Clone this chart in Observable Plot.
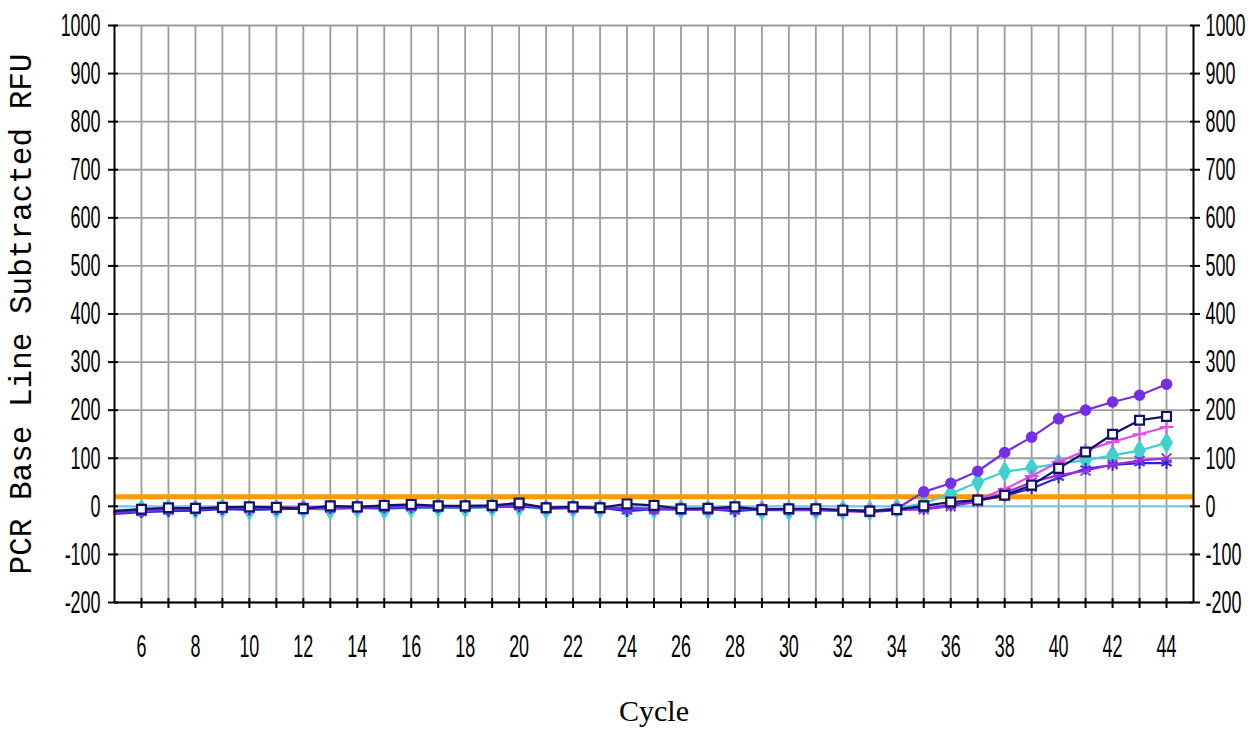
<!DOCTYPE html>
<html><head><meta charset="utf-8">
<script src="https://cdn.jsdelivr.net/npm/d3@7"></script>
<script src="https://cdn.jsdelivr.net/npm/@observablehq/plot@0.6"></script>
<style>
body{margin:0;background:#fff;}
#chart svg{display:block;background:#fff}
g[aria-label="y-axis label"] text{font-family:"Liberation Mono",monospace;font-size:31px;}
g[aria-label="x-axis label"] text{font-family:"Liberation Serif",serif;font-size:30px;}
</style></head><body><div id="chart"></div>
<script>
const cycles = [5,6,7,8,9,10,11,12,13,14,15,16,17,18,19,20,21,22,23,24,25,26,27,28,29,30,31,32,33,34,35,36,37,38,39,40,41,42,43,44];
const xTicks = [6,7,8,9,10,11,12,13,14,15,16,17,18,19,20,21,22,23,24,25,26,27,28,29,30,31,32,33,34,35,36,37,38,39,40,41,42,43,44];
const yTicks = [-200,-100,0,100,200,300,400,500,600,700,800,900,1000];
const threshold = 20;

const purpleTop = [-14,-10,-6,-4,-3,-2,-3,-3,-2,-2,-1,1,0,0,1,3,-3,-2,-3,-4,-5,-6,-6,-5,-6,-6,-7,-9,-10,-5,
                   30,48,73,112,144,182,200,217,231,254];
const navy      = [-10,-6,-3,-4,-2,-1,-2,-5,1,-1,2,4,1,1,2,7,-3,-1,-3,5,2,-5,-4,-1,-7,-5,-5,-8,-10,-7,
                   1,9,13,23,44,79,113,150,179,187];
const magenta   = [-12,-8,-4,-3,-3,-3,-2,-2,-1,-1,0,2,1,0,1,4,-2,-2,-3,-3,-4,-5,-5,-4,-5,-6,-7,-8,-9,-6,
                   -2,3,14,36,63,92,116,134,150,165];
const cyan      = [-8,-6,-5,-6,-4,-8,-6,-5,-7,-4,-6,-3,-2,-3,-2,0,-6,-4,-5,-5,-6,-6,-7,-5,-8,-9,-8,-8,-9,-4,
                   6,26,50,72,80,89,96,106,116,132];
const blue      = [-16,-12,-10,-9,-6,-7,-6,-5,-4,-3,-3,-2,-2,-2,-1,0,-4,-3,-3,-10,-6,-6,-6,-10,-6,-7,-7,-8,-10,-6,
                   -6,2,12,22,37,60,78,86,90,90];
const violet    = [-12,-10,-7,-5,-4,-3,-4,-3,-3,-3,-1,0,-1,-1,0,2,-4,-3,-4,-5,-6,-7,-7,-6,-6,-7,-8,-10,-12,-8,
                   -6,0,10,28,50,65,74,87,95,100];

const toRows = vals => vals.map((v, i) => ({cycle: cycles[i], rfu: v}));

// drawing order and styles
const styles = [
  {vals: cyan,      color: "#3fd2cc", symbol: "diamond",  fill: "#3fd2cc", r: 5.5},
  {vals: magenta,   color: "#e24ce6", symbol: "plus",     fill: "none",    r: 4.5},
  {vals: blue,      color: "#2626dc", symbol: "asterisk", fill: "none",    r: 5.5},
  {vals: violet,    color: "#9a2fe0", symbol: "times",    fill: "none",    r: 4.5},
  {vals: purpleTop, color: "#7530e4", symbol: "circle",   fill: "#7530e4", r: 4.8},
  {vals: navy,      color: "#12126a", symbol: "square",   fill: "#ffffff", r: 5}
];

const seriesMarks = styles.flatMap(s => {
  const rows = toRows(s.vals);
  return [
    Plot.line(rows, {x: "cycle", y: "rfu", stroke: s.color, strokeWidth: 2.2}),
    Plot.dot(rows.filter(d => d.cycle >= 6), {x: "cycle", y: "rfu", symbol: s.symbol, r: s.r,
      stroke: s.color, fill: s.fill, strokeWidth: s.symbol === "square" ? 2.2 : 2})
  ];
});

const fmt = d => String(d);

const plot = Plot.plot({
  width: 1253,
  height: 733,
  marginLeft: 114,
  marginRight: 60,
  marginTop: 25,
  marginBottom: 131,
  style: {fontFamily: "Liberation Sans, sans-serif", fontSize: "32px", color: "#000", background: "#fff"},
  x: {domain: [5, 45]},
  y: {domain: [-200, 1000]},
  marks: [
    Plot.gridX(xTicks, {stroke: "#9c9c9c", strokeOpacity: 1, strokeWidth: 1.8}),
    Plot.gridY(yTicks, {stroke: "#9c9c9c", strokeOpacity: 1, strokeWidth: 1.8}),
    Plot.ruleY([0], {stroke: "#7cc6e4", strokeWidth: 1.8}),
    Plot.ruleY([threshold], {stroke: "#ff9a00", strokeWidth: 5}),
    ...seriesMarks,
    Plot.ruleX([5], {stroke: "#000", strokeWidth: 2}),
    Plot.ruleX([45], {stroke: "#000", strokeWidth: 2}),
    Plot.ruleY([-200], {stroke: "#000", strokeWidth: 2}),
    Plot.axisY(yTicks, {anchor: "left", tickSize: 10, tickPadding: 8, dx: 4, strokeWidth: 2, tickFormat: fmt,
      label: "PCR Base Line Subtracted RFU", labelAnchor: "center", labelOffset: 106, labelArrow: false}),
    Plot.axisY(yTicks, {anchor: "right", tickSize: 10, tickPadding: 6, dx: -4, strokeWidth: 2, tickFormat: fmt, label: null}),
    Plot.axisX(xTicks, {anchor: "bottom", tickSize: 10, tickPadding: 26, dy: -4, strokeWidth: 2,
      tickFormat: d => d % 2 === 0 ? String(d) : "",
      label: "Cycle", labelAnchor: "center", labelOffset: 118, labelArrow: false})
  ]
});

// condense the tick-label digits like the original bitmap font
plot.querySelectorAll('g[aria-label="y-axis tick label"] text, g[aria-label="x-axis tick label"] text').forEach(t => {
  t.setAttribute("transform", (t.getAttribute("transform") || "") + " scale(0.56,1)");
});

document.getElementById("chart").appendChild(plot);
</script>
</body></html>
